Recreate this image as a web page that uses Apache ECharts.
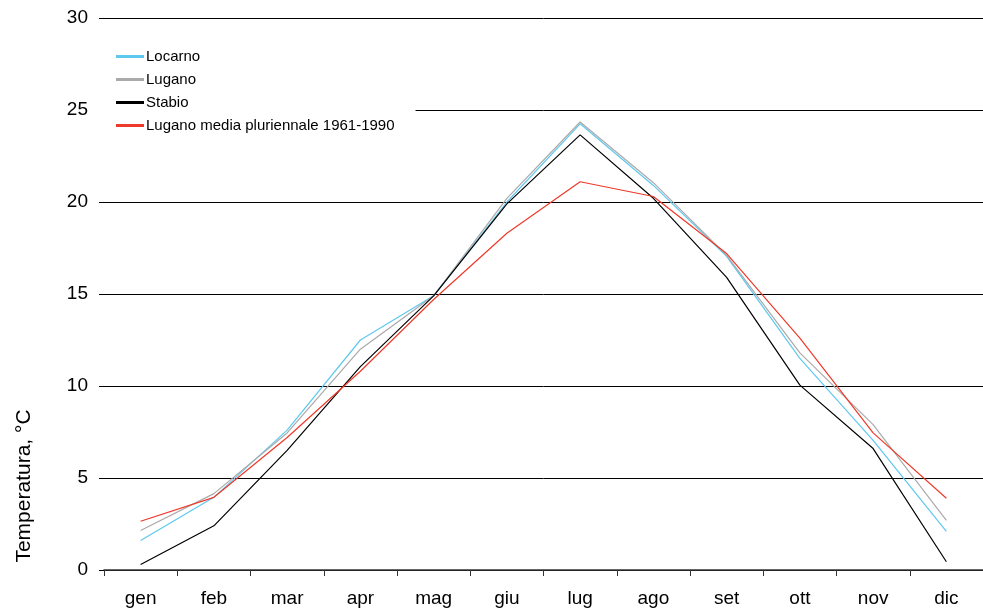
<!DOCTYPE html>
<html>
<head>
<meta charset="utf-8">
<script src="https://cdn.jsdelivr.net/npm/echarts@6/dist/echarts.min.js"></script>
<style>
html,body{margin:0;padding:0;background:#fff;}
#chart{width:983px;height:609px;}
</style>
</head>
<body>
<div id="chart"></div>
<script>
const months = ['gen','feb','mar','apr','mag','giu','lug','ago','set','ott','nov','dic'];
const locarno = [1.6, 3.95, 7.6, 12.5, 14.9, 20.0, 24.25, 20.9, 17.05, 11.5, 7.05, 2.1];
const lugano = [2.15, 4.15, 7.45, 12.0, 14.9, 20.2, 24.35, 21.05, 17.1, 11.8, 7.9, 2.7];
const stabio = [0.3, 2.4, 6.5, 11.05, 14.9, 19.9, 23.65, 20.2, 15.9, 10.05, 6.6, 0.45];
const luganoMedia = [2.65, 3.95, 7.2, 10.8, 14.7, 18.3, 21.1, 20.3, 17.2, 12.6, 7.45, 3.9];
const yTicks = {min: 0, max: 30, interval: 5};
const yTitle = 'Temperatura, °C';

const chart = echarts.init(document.getElementById('chart'), null, {renderer: 'canvas'});
const font = 'Liberation Sans, Arial, sans-serif';
function s(name, data, color) {
  return {name: name, type: 'line', data: data, symbol: 'none', lineStyle: {width: 1.2, color: color}, itemStyle: {color: color}, z: 3};
}
chart.setOption({
  animation: false,
  backgroundColor: '#fff',
  grid: {left: 104, right: 0, top: 18, bottom: 39, containLabel: false},
  legend: {
    orient: 'vertical', left: 97, top: 39,
    padding: [10, 21, 10, 19],
    backgroundColor: '#fff',
    itemWidth: 28, itemHeight: 3, itemGap: 8, icon: 'rect',
    textStyle: {fontFamily: font, fontSize: 15, color: '#000', lineHeight: 15, padding: [0, 0, 0, -3]},
    z: 10,
    data: ['Locarno', 'Lugano', 'Stabio', 'Lugano media pluriennale 1961-1990']
  },
  graphic: [{
    type: 'text', x: 24, y: 486, rotation: Math.PI / 2,
    style: {text: yTitle, fontFamily: font, fontSize: 21, fill: '#000', textAlign: 'center', textVerticalAlign: 'middle'}
  }],
  xAxis: {
    type: 'category', data: months, boundaryGap: true,
    axisLine: {show: true, lineStyle: {color: '#333', width: 1.5}},
    axisTick: {show: true, length: 6, lineStyle: {color: '#333'}},
    axisLabel: {fontFamily: font, fontSize: 19, color: '#000', margin: 19},
    splitLine: {show: false}
  },
  yAxis: {
    type: 'value', min: yTicks.min, max: yTicks.max, interval: yTicks.interval,
    axisLine: {show: false},
    axisTick: {show: true, length: 5, lineStyle: {color: '#000'}},
    axisLabel: {fontFamily: font, fontSize: 19, color: '#000', margin: 16},
    splitLine: {show: true, lineStyle: {color: '#000', width: 1}}
  },
  series: [
    s('Locarno', locarno, '#5ec8ef'),
    s('Lugano', lugano, '#aaaaaa'),
    s('Stabio', stabio, '#000000'),
    s('Lugano media pluriennale 1961-1990', luganoMedia, '#ee3a2a')
  ]
});
</script>
</body>
</html>
